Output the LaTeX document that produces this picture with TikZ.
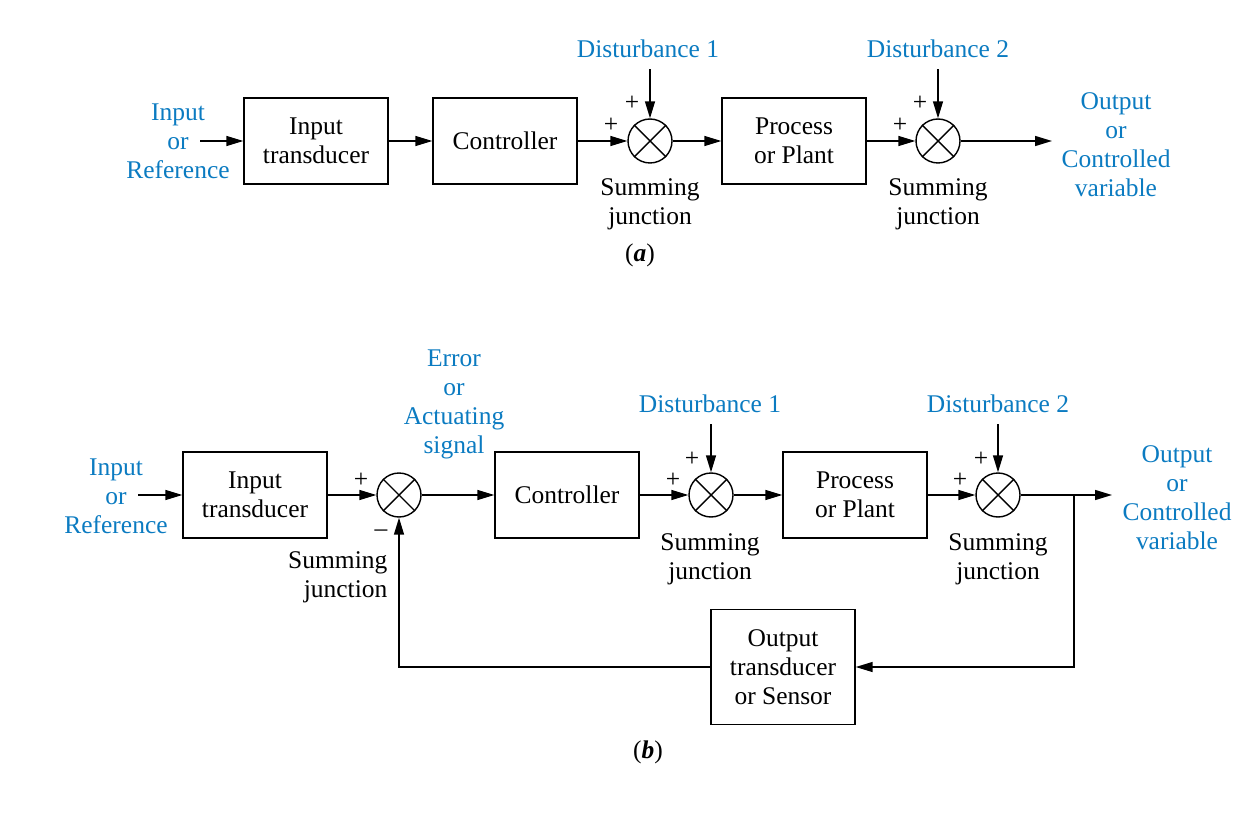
\documentclass[tikz,border=0pt]{standalone}
\usepackage{fontspec}
\setmainfont{Liberation Serif}
\usetikzlibrary{arrows.meta}
\definecolor{lblue}{HTML}{0B7BC1}
\begin{document}
\begin{tikzpicture}[x=0.02cm,y=-0.02cm,font=\fontsize{14.5}{16.5}\selectfont,line width=.8pt,
	blk/.style={draw,minimum width=2.88cm,minimum height=1.72cm,align=center,inner sep=0},
	sumj/.style={draw,circle,minimum size=.88cm,inner sep=0},
	lbl/.style={align=center,inner sep=0},
	sig/.style={lbl,text=lblue},
	>={Triangle[length=.34cm,width=.2cm]}]
	\useasboundingbox (0,0) rectangle (1253,820);
	% (a) open loop
	\node[sig] (in1) at (178,141) {Input\\or\\Reference};
	\coordinate (a0) at (200,141);
	\node[blk] (it1) at (316,141) {Input\\transducer};
	\node[blk] (ct1) at (505,141) {Controller};
	\node[sumj] (s11) at (650,141) {};
	\node[blk] (pl1) at (794,141) {Process\\or Plant};
	\node[sumj] (s12) at (938,141) {};
	\coordinate (a1) at (1052,141);
	\node[sig] (out1) at (1116,145) {Output\\or\\Controlled\\variable};
	\node[sig] (d11) at (648,49) {Disturbance 1};
	\node[sig] (d12) at (938,49) {Disturbance 2};
	\node[lbl] (sj11) at (650,204) {Summing\\junction};
	\node[lbl] (sj12) at (938,204) {Summing\\junction};
	\foreach \x/\y[count=\i] in {611/125,632/103,900/125,920/103}\node[lbl] (pa\i) at (\x,\y) {+};
	\node[lbl] (ta) at (640,255) {(\textbf{\textit{a}})};
	\foreach \a/\b in {a0/it1,it1/ct1,ct1/s11,s11/pl1,pl1/s12,s12/a1}\draw[->] (\a)--(\b);
	\draw[->,shorten <=6pt] (s11 |- d11.south)--(s11);
	\draw[->,shorten <=6pt] (s12 |- d12.south)--(s12);
	% (b) closed loop
	\node[sig] (in2) at (116,496) {Input\\or\\Reference};
	\coordinate (b0) at (138,495);
	\node[blk] (it2) at (255,495) {Input\\transducer};
	\node[sumj] (s20) at (399,495) {};
	\node[sig] (err) at (454,404) {Error\\or\\Actuating\\signal};
	\node[blk] (ct2) at (567,495) {Controller};
	\node[sumj] (s21) at (711,495) {};
	\node[blk] (pl2) at (855,495) {Process\\or Plant};
	\node[sumj] (s22) at (998,495) {};
	\coordinate (br) at (1074,495);
	\coordinate (b1) at (1112,495);
	\node[sig] (out2) at (1177,498) {Output\\or\\Controlled\\variable};
	\node[blk,minimum height=2.3cm] (sen) at (783,667) {Output\\transducer\\or Sensor};
	\node[sig] (d21) at (710,404) {Disturbance 1};
	\node[sig] (d22) at (998,404) {Disturbance 2};
	\node[lbl,align=right,anchor=east] (sj20) at (388,577) {Summing\\junction};
	\node[lbl] (sj21) at (710,559) {Summing\\junction};
	\node[lbl] (sj22) at (998,559) {Summing\\junction};
	\foreach \x/\y[count=\i] in {361/480,673/480,692/459,960/480,981/459}\node[lbl] (pb\i) at (\x,\y) {+};
	\node[lbl] (mb) at (381,533) {–};
	\node[lbl] (tb) at (648,752) {(\textbf{\textit{b}})};
	\foreach \a/\b in {b0/it2,it2/s20,s20/ct2,ct2/s21,s21/pl2,pl2/s22,s22/b1}\draw[->] (\a)--(\b);
	\draw[->,shorten <=6pt] (s21 |- d21.south)--(s21);
	\draw[->,shorten <=6pt] (s22 |- d22.south)--(s22);
	\draw[->] (br) |- (sen);
	\draw[->] (sen) -| (s20);
	\foreach \s in {s11,s12,s20,s21,s22}\draw (\s.north west)--(\s.south east) (\s.north east)--(\s.south west);
\end{tikzpicture}
\end{document}
